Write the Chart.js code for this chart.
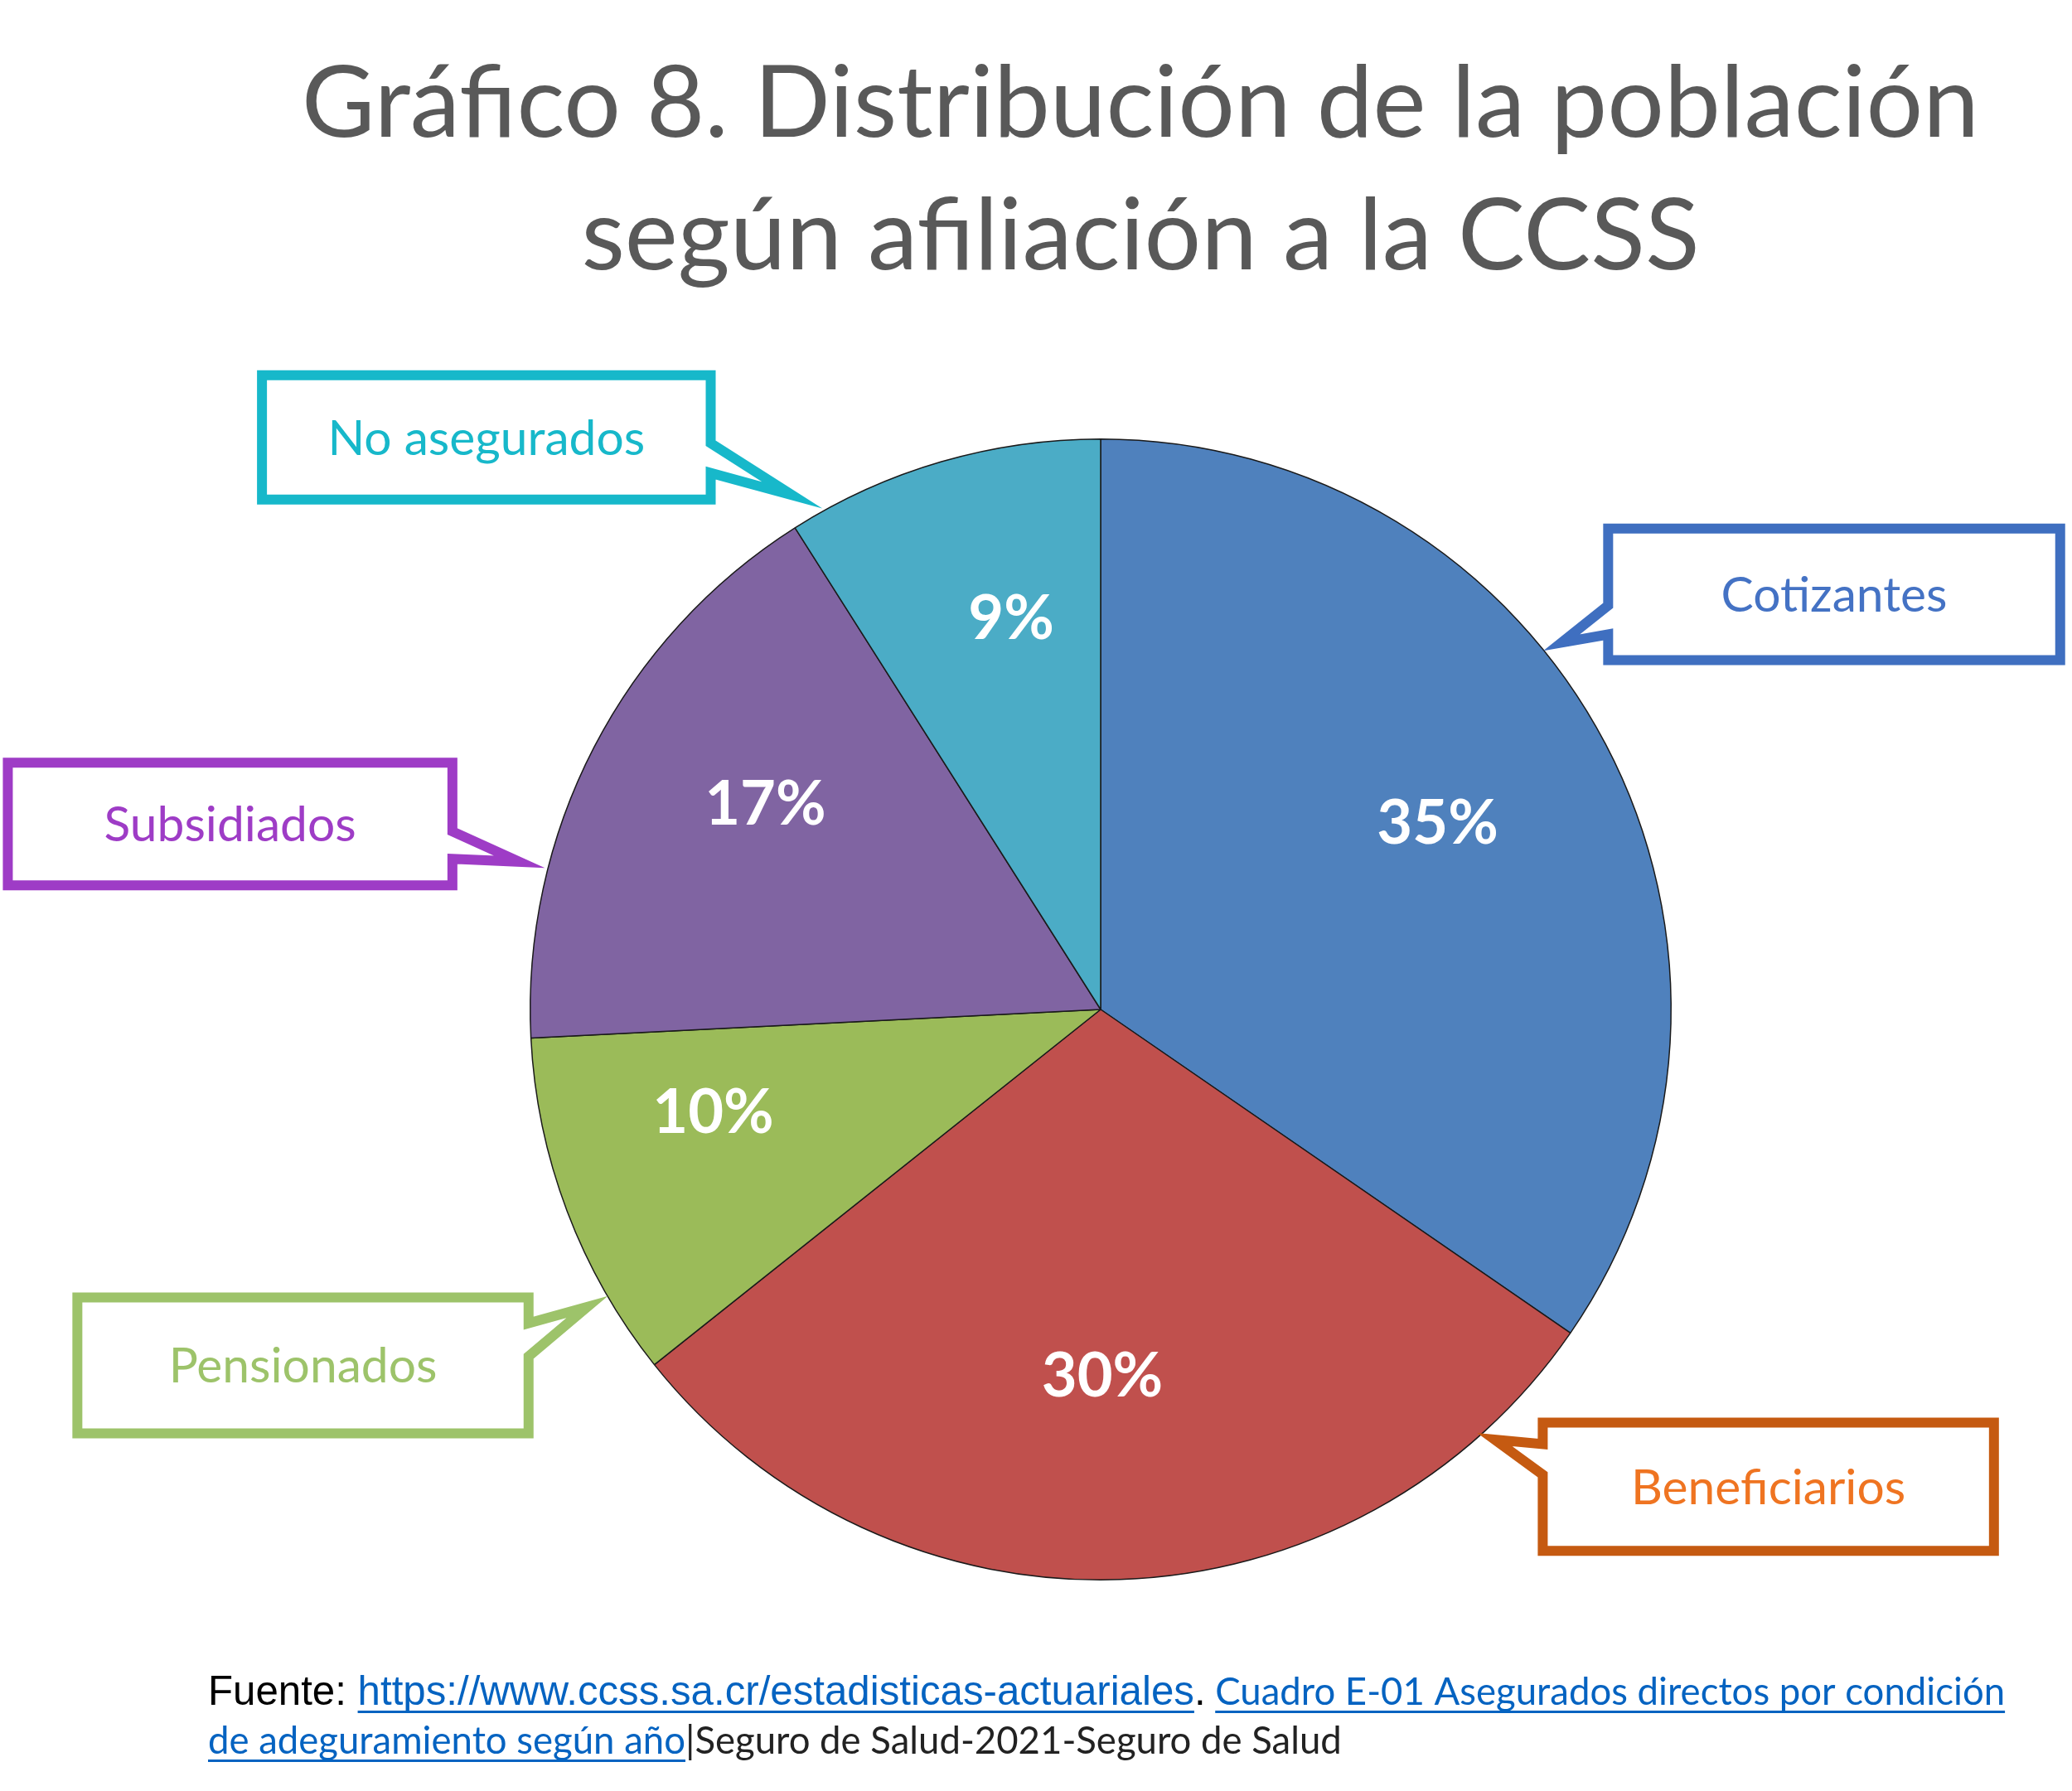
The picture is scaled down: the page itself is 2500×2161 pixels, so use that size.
<!DOCTYPE html>
<html>
<head>
<meta charset="UTF-8"/>
<title>Gráfico 8</title>
<script src="https://cdn.jsdelivr.net/npm/chart.js@4.4.1/dist/chart.umd.min.js"></script>
<style>
  body { margin: 0; background: #fff; }
</style>
</head>
<body>
<canvas id="chart" width="2500" height="2161"></canvas>
<script>
// datos
const categorias = ['Cotizantes', 'Beneficiarios', 'Pensionados', 'Subsidiados', 'No asegurados'];
const porcentajes = [34.6, 29.7, 9.9, 16.8, 9.0];
const titulo = ['Gráfico 8. Distribución de la población', 'según afiliación a la CCSS'];
const fuente1 = ['Fuente: ', 'https://www.ccss.sa.cr/estadisticas-actuariales', '.', ' ', 'Cuadro E-01 Asegurados directos por condición'];
const fuente2 = ['de adeguramiento según año', '|Seguro de Salud-2021-Seguro de Salud'];

const coloresSector = ['#4F81BD', '#C0504D', '#9BBB59', '#8064A2', '#4BACC6'];

// posición de cada porcentaje respecto al centro (px para radio 689)
const posEtiqueta = [[407, -227], [2, 441], [-468, 122], [-405, -250], [-108, -474]];

// globos (callouts): caja relativa al centro del pastel, punta sobre el borde
const globos = [
  { dx: 613,   dy: -581, w: 546, h: 159, lado: 'izq', b1: 93, b2: 128, ang: -39.3,  borde: '#3F6FC0', texto: '#4472C4' },
  { dx: 534,   dy: 499,  w: 545, h: 155, lado: 'izq', b1: 26, b2: 63,  ang: 48.8,   borde: '#C55A11', texto: '#EF7421' },
  { dx: -1236, dy: 348,  w: 545, h: 164, lado: 'der', b1: 31, b2: 71,  ang: 149.8,  borde: '#9DC36A', texto: '#9DC36A' },
  { dx: -1320, dy: -298, w: 537, h: 148, lado: 'der', b1: 83, b2: 116, ang: -165.7, borde: '#9E3CC6', texto: '#9E3CC6' },
  { dx: -1013, dy: -766, w: 542, h: 150, lado: 'der', b1: 82, b2: 118, ang: -117.9, borde: '#17B8CA', texto: '#17B8CA' }
];

const LETRA = 'Lato, "Open Sans", sans-serif';
const ARIAL = '"Liberation Sans", Arial, sans-serif';
const GROSOR = 12;

function ajustar(ctx, texto, familia, peso, ancho) {
  ctx.font = peso + ' 100px ' + familia;
  return 100 * ancho / ctx.measureText(texto).width;
}

// vértice del trazo para que la punta de inglete caiga justo en (tx, ty)
function vertice(tx, ty, x1, y1, x2, y2) {
  let ax = x1 - tx, ay = y1 - ty, bx = x2 - tx, by = y2 - ty;
  const la = Math.hypot(ax, ay), lb = Math.hypot(bx, by);
  ax /= la; ay /= la; bx /= lb; by /= lb;
  const mitad = Math.acos(ax * bx + ay * by) / 2;
  const ext = (GROSOR / 2) / Math.sin(mitad);
  let mx = ax + bx, my = ay + by;
  const lm = Math.hypot(mx, my);
  return [tx + mx / lm * ext, ty + my / lm * ext];
}

const textos = {
  id: 'textos',
  afterDatasetsDraw(chart) {
    const ctx = chart.ctx;
    const arcs = chart.getDatasetMeta(0).data;
    const total = porcentajes.reduce((a, b) => a + b, 0);
    const cx = arcs[0].x, cy = arcs[0].y, r = arcs[0].outerRadius;
    const k = r / 689;

    // porcentajes dentro de cada sector
    ctx.save();
    ctx.fillStyle = '#fff';
    const tp = 74;
    ctx.font = 'bold ' + tp + 'px ' + LETRA;
    ctx.textAlign = 'center';
    ctx.textBaseline = 'alphabetic';
    arcs.forEach((a, i) => {
      const txt = Math.round(porcentajes[i] / total * 100) + '%';
      ctx.fillText(txt, cx + posEtiqueta[i][0] * k, cy + posEtiqueta[i][1] * k + tp * 0.36);
    });

    // globos
    const tam = ajustar(ctx, 'Cotizantes', LETRA, 'normal', 273);
    ctx.textBaseline = 'middle';
    globos.forEach((g, i) => {
      const x = cx + g.dx * k, y = cy + g.dy * k, w = g.w * k, h = g.h * k;
      const ang = g.ang * Math.PI / 180;
      const rp = r - 15 * k;
      const tx = cx + Math.cos(ang) * rp, ty = cy + Math.sin(ang) * rp;
      const bx = g.lado === 'izq' ? x : x + w;
      const [vx, vy] = vertice(tx, ty, bx, y + g.b1 * k, bx, y + g.b2 * k);
      ctx.beginPath();
      if (g.lado === 'izq') {
        ctx.moveTo(x, y);
        ctx.lineTo(x + w, y);
        ctx.lineTo(x + w, y + h);
        ctx.lineTo(x, y + h);
        ctx.lineTo(x, y + g.b2 * k);
        ctx.lineTo(vx, vy);
        ctx.lineTo(x, y + g.b1 * k);
      } else {
        ctx.moveTo(x, y);
        ctx.lineTo(x + w, y);
        ctx.lineTo(x + w, y + g.b1 * k);
        ctx.lineTo(vx, vy);
        ctx.lineTo(x + w, y + g.b2 * k);
        ctx.lineTo(x + w, y + h);
        ctx.lineTo(x, y + h);
      }
      ctx.closePath();
      ctx.fillStyle = '#fff';
      ctx.fill();
      ctx.lineWidth = GROSOR;
      ctx.lineJoin = 'miter';
      ctx.miterLimit = 100;
      ctx.strokeStyle = g.borde;
      ctx.stroke();
      ctx.fillStyle = g.texto;
      ctx.font = tam + 'px ' + LETRA;
      ctx.fillText(categorias[i], x + w / 2, y + h / 2 + 2);
    });
    ctx.restore();
  },
  afterDraw(chart) {
    const ctx = chart.ctx;
    ctx.save();
    // título
    const tt = ajustar(ctx, titulo[0], LETRA, 'normal', 2024);
    ctx.font = tt + 'px ' + LETRA;
    ctx.fillStyle = '#595959';
    ctx.textAlign = 'center';
    ctx.textBaseline = 'alphabetic';
    ctx.fillText(titulo[0], 1376, 165);
    ctx.fillText(titulo[1], 1376, 325);

    // fuente
    const ta = ajustar(ctx, fuente1[0] + fuente1[1] + fuente1[2], ARIAL, 'normal', 1204);
    const tc = ajustar(ctx, fuente1[4], LETRA, 'normal', 953);
    const azul = '#0563C1';
    const linea1 = [
      { t: fuente1[0], f: ARIAL, s: ta, c: '#000' },
      { t: fuente1[1], f: ARIAL, s: ta, c: azul, u: true },
      { t: fuente1[2], f: ARIAL, s: ta, c: '#000' },
      { t: fuente1[3], f: LETRA, s: tc, c: '#000' },
      { t: fuente1[4], f: LETRA, s: tc, c: azul, u: true }
    ];
    const linea2 = [
      { t: fuente2[0], f: LETRA, s: tc, c: azul, u: true },
      { t: fuente2[1], f: LETRA, s: tc, c: '#222' }
    ];
    ctx.textAlign = 'left';
    [[linea1, 2057], [linea2, 2116]].forEach(([segs, base]) => {
      let x = 251;
      segs.forEach(sg => {
        ctx.font = sg.s + 'px ' + sg.f;
        ctx.fillStyle = sg.c;
        ctx.fillText(sg.t, x, base);
        const w = ctx.measureText(sg.t).width;
        if (sg.u) ctx.fillRect(x, base + 7, w, 3);
        x += w;
      });
    });
    ctx.restore();
  }
};

new Chart(document.getElementById('chart').getContext('2d'), {
  type: 'pie',
  data: {
    labels: categorias,
    datasets: [{
      data: porcentajes,
      backgroundColor: coloresSector,
      borderColor: '#1a1a1a',
      borderWidth: 1.5
    }]
  },
  options: {
    responsive: false,
    devicePixelRatio: 1,
    animation: false,
    layout: { padding: { top: 529, left: 639, right: 483, bottom: 254 } },
    plugins: {
      legend: { display: false },
      tooltip: { enabled: false }
    }
  },
  plugins: [textos]
});
</script>
</body>
</html>
